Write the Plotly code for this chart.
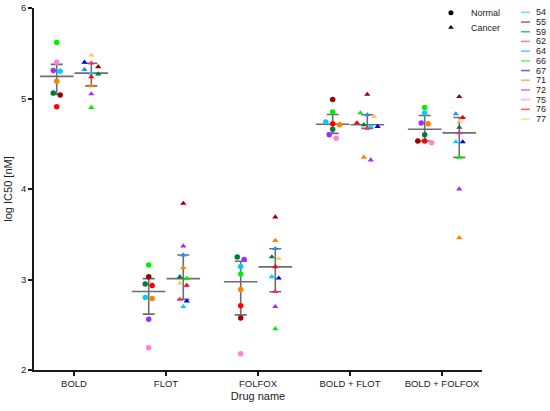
import numpy as np
import plotly.graph_objects as go

# sample ids and their colours
SAMPLES = ['54', '55', '59', '62', '64', '66', '67', '71', '72', '75', '76', '77']
COLORS = ['#00CCFF', '#990000', '#007A3D', '#F0288C', '#1E90FF', '#00EE00',
          '#0000EE', '#FF7F00', '#9B30FF', '#FF80DC', '#FF0000', '#FFC966']

DRUGS = ['BOLD', 'FLOT', 'FOLFOX', 'BOLD + FLOT', 'BOLD + FOLFOX']

# log IC50 values per drug, in SAMPLES order (None = not measured)
#                54    55     59    62    64    66     67    71    72    75     76    77
BOLD_NORMAL = [5.30, 5.04, 5.06, None, None, 5.62, None, 5.19, 5.31, 5.40, 4.91, None]
BOLD_CANCER = [5.28, 5.35, 5.27, 5.39, 5.32, 4.90, 5.40, 5.14, 5.05, None, 5.24, 5.48]
FLOT_NORMAL = [2.80, 3.03, 2.95, None, None, 3.16, None, 2.79, 2.56, 2.245, 2.935, None]
FLOT_CANCER = [2.70, 3.84, 3.03, 2.78, 3.27, 3.01, 2.76, 3.13, 3.37, None, 2.935, 2.96]
FOLFOX_NORMAL = [3.145, 2.575, 3.25, None, None, 3.06, None, 2.89, 3.22, 2.18, 2.71, None]
FOLFOX_CANCER = [3.03, 3.69, 3.25, 2.865, 3.34, 2.455, 3.015, 3.43, 2.70, None, 3.14, 3.23]
BOLD_FLOT_NORMAL = [4.74, 4.99, 4.66, None, None, 4.85, None, 4.71, 4.60, 4.56, 4.72, None]
BOLD_FLOT_CANCER = [4.69, 5.045, 4.71, 4.67, 4.82, 4.84, 4.69, 4.35, 4.32, None, 4.73, 4.80]
BOLD_FOLFOX_NORMAL = [4.84, 4.53, 4.60, None, None, 4.90, None, 4.72, 4.73, 4.51, 4.53, None]
BOLD_FOLFOX_CANCER = [4.52, 5.02, 4.68, 4.62, 4.83, 4.35, 4.52, 3.46, 4.00, None, 4.79, 4.75]

NORMAL = [BOLD_NORMAL, FLOT_NORMAL, FOLFOX_NORMAL, BOLD_FLOT_NORMAL, BOLD_FOLFOX_NORMAL]
CANCER = [BOLD_CANCER, FLOT_CANCER, FOLFOX_CANCER, BOLD_FLOT_CANCER, BOLD_FOLFOX_CANCER]

FONT = 'Liberation Sans, Arial, sans-serif'
BAR_COLOR = '#6E6E6E'
AXIS_COLOR = '#1A1A1A'
SHIFT = 0.188   # normal left, cancer right of the category tick


def swarm(vals, gap=0.051, step=0.075):
    # simple dot-plot spreading: values close together are set side by side
    order = sorted(range(len(vals)), key=lambda k: -vals[k])
    offs = [0.0] * len(vals)
    i = 0
    while i < len(order):
        top = vals[order[i]]
        grp = [order[i]]
        j = i + 1
        while j < len(order) and top - vals[order[j]] <= gap:
            grp.append(order[j])
            j += 1
        for k, idx in enumerate(grp):
            offs[idx] = (k - (len(grp) - 1) / 2) * step
        i = j
    return offs


fig = go.Figure()

# median with interquartile range, then the dots on top
for groups, side in [(NORMAL, -SHIFT), (CANCER, SHIFT)]:
    for d, values in enumerate(groups):
        vals = [v for v in values if v is not None]
        med = np.percentile(vals, 50, method='weibull')
        q1 = np.percentile(vals, 25, method='weibull')
        q3 = np.percentile(vals, 75, method='weibull')
        fig.add_trace(go.Scatter(
            x=[d + side], y=[med], mode='markers', showlegend=False, hoverinfo='skip',
            marker=dict(symbol='line-ew-open', size=24, color=BAR_COLOR,
                        line=dict(color=BAR_COLOR, width=1.6)),
            error_y=dict(type='data', symmetric=False, array=[q3 - med], arrayminus=[med - q1],
                         color=BAR_COLOR, thickness=1.6, width=6)))

for groups, side, symbol in [(NORMAL, -SHIFT, 'circle'), (CANCER, SHIFT, 'triangle-up')]:
    for d, values in enumerate(groups):
        idx = [k for k, v in enumerate(values) if v is not None]
        vals = [values[k] for k in idx]
        offs = swarm(vals)
        fig.add_trace(go.Scatter(
            x=[d + side + o for o in offs], y=vals, mode='markers', showlegend=False,
            text=[SAMPLES[k] for k in idx],
            marker=dict(symbol=symbol, size=5.5, color=[COLORS[k] for k in idx], line_width=0)))

# legend for the two tissue types (one legend each so the rows sit close)
fig.add_trace(go.Scatter(x=[None], y=[None], mode='markers', name='Normal', legend='legend',
                         marker=dict(symbol='circle', size=5, color='black')))
fig.add_trace(go.Scatter(x=[None], y=[None], mode='markers', name='Cancer', legend='legend2',
                         marker=dict(symbol='triangle-up', size=5, color='black')))

# sample colour key, drawn by hand so the rows stay tight
for k, s in enumerate(SAMPLES):
    yy = 0.988 - k * 0.0268
    fig.add_shape(type='line', xref='paper', yref='paper', x0=1.087, x1=1.107, y0=yy, y1=yy,
                  line=dict(color=COLORS[k], width=1.6), opacity=0.6)
    fig.add_annotation(xref='paper', yref='paper', x=1.116, y=yy, text=s, showarrow=False,
                       xanchor='left', yanchor='middle', font=dict(size=9, color='#222'))

legend_style = dict(xanchor='left', yanchor='top', bgcolor='rgba(0,0,0,0)',
                    font=dict(size=9), itemwidth=30)

fig.update_layout(
    width=550, height=411,
    margin=dict(l=34, r=68, t=8, b=41, autoexpand=False),
    plot_bgcolor='white', paper_bgcolor='white',
    font=dict(family=FONT, size=9.5, color='#222'),
    showlegend=True,
    legend=dict(x=0.886, y=1.0268, **legend_style),
    legend2=dict(x=0.886, y=0.986, **legend_style),
    xaxis=dict(range=[-0.435, 4.435], tickvals=list(range(len(DRUGS))), ticktext=DRUGS,
               showline=True, linecolor=AXIS_COLOR, linewidth=1.5, ticks='outside', ticklen=4,
               tickwidth=1.5, tickcolor=AXIS_COLOR, showgrid=False, zeroline=False,
               title=dict(text='Drug name', standoff=4), automargin=False),
    yaxis=dict(range=[2, 6], tickvals=[2, 3, 4, 5, 6], showline=True, linecolor=AXIS_COLOR,
               linewidth=1.5, ticks='outside', ticklen=4, tickwidth=1.5, tickcolor=AXIS_COLOR,
               showgrid=False, zeroline=False, title=dict(text='log IC50 [nM]', standoff=6),
               automargin=False),
)

fig.write_html("out.html", config={'displayModeBar': False},
               post_script="document.body.style.margin='0';")
